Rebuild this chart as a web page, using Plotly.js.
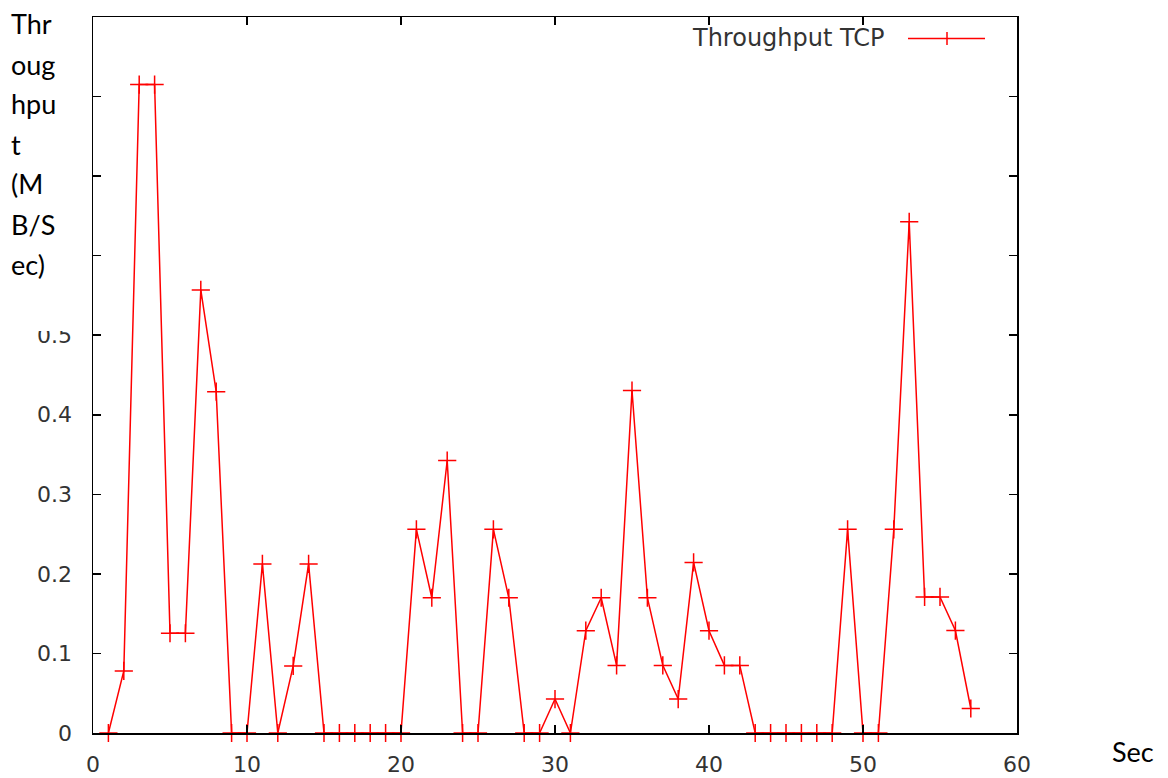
<!DOCTYPE html>
<html>
<head>
<meta charset="utf-8">
<script src="https://cdn.plot.ly/plotly-3.0.1.min.js"></script>
<style>html,body{margin:0;padding:0;background:#fff;}#chart{width:1168px;height:778px;}</style>
</head>
<body>
<div id="chart"></div>
<script>
// Data
const seconds = [1,2,3,4,5,6,7,8,9,10,11,12,13,14,15,16,17,18,19,20,21,22,23,24,25,26,27,28,29,30,31,32,33,34,35,36,37,38,39,40,41,42,43,44,45,46,47,48,49,50,51,52,53,54,55,56,57];
const throughput = [0,0.078,0.815,0.815,0.1254,0.1254,0.557,0.429,0,0,0.2125,0,0.0843,0.2125,0,0,0,0,0,0,0.256,0.170,0.3425,0,0,0.256,0.170,0,0,0.0427,0,0.1286,0.170,0.085,0.4305,0.170,0.085,0.0427,0.2144,0.1286,0.085,0.085,0,0,0,0,0,0,0.256,0,0,0.256,0.6426,0.171,0.171,0.1288,0.0308];
const seriesName = "Throughput TCP";
const yTitleLines = ["Thr","oug","hpu","t","(M","B/S","ec)"];
const xTitle = "Sec";
const xTicks = [0,10,20,30,40,50,60];
const xTickText = ["0","10","20","30","40","50","60"];
const yTicks = [0,0.1,0.2,0.3,0.4,0.5,0.6,0.7,0.8,0.9];
// labels 0.6-0.9 are hidden behind the wrapped axis title in the reference
const yTickText = ["0","0.1","0.2","0.3","0.4","0.5","","","",""];

// plot-area geometry helpers (pixels -> paper)
const L = 93, R = 1017, T = 17, B = 733;
const px = x => (x - L) / (R - L);
const py = y => (B - y) / (B - T);

const red = "#ff0000";
const tickFont = {family: "DejaVu Sans", size: 22, color: "#333333"};

const trace = {
  x: seconds, y: throughput, name: seriesName,
  type: "scatter", mode: "lines+markers",
  line: {color: red, width: 1.5},
  marker: {symbol: "cross-thin-open", size: 13, line: {color: red, width: 1.5}, color: red},
  cliponaxis: false, showlegend: false
};

const annotations = yTitleLines.map((t, i) => ({
  text: t, xref: "paper", yref: "paper", x: px(9), y: py(24 + 40 * i),
  xanchor: "left", yanchor: "middle", showarrow: false,
  font: {family: "Lato", size: 27, color: "#000"}
}));
annotations.push({
  text: xTitle, xref: "paper", yref: "paper", x: px(1133), y: py(751),
  xanchor: "center", yanchor: "middle", showarrow: false,
  font: {family: "Lato", size: 27, color: "#000"}
});
annotations.push({
  text: seriesName, xref: "paper", yref: "paper", x: px(887), y: py(38),
  xanchor: "right", yanchor: "middle", showarrow: false,
  font: {family: "DejaVu Sans", size: 24, color: "#333333"}
});

const shapes = [
  {type: "rect", xref: "paper", yref: "paper", x0: px(0), x1: px(88), y0: py(331), y1: py(0),
   fillcolor: "#ffffff", line: {width: 0}, layer: "above"},
  {type: "line", xref: "paper", yref: "paper", x0: px(908), x1: px(985), y0: py(38.5), y1: py(38.5),
   line: {color: red, width: 1.5}, layer: "above"},
  {type: "line", xref: "paper", yref: "paper", x0: px(947), x1: px(947), y0: py(32), y1: py(45),
   line: {color: red, width: 1.5}, layer: "above"}
];

const axisCommon = {
  showgrid: false, zeroline: false, showline: true, linecolor: "#000", linewidth: 1.5,
  mirror: "ticks", ticks: "inside", ticklen: 8, tickwidth: 1.5, tickcolor: "#000",
  tickfont: tickFont
};

const layout = {
  width: 1168, height: 778,
  margin: {l: L, r: 1168 - R, t: T, b: 778 - B, pad: 0},
  paper_bgcolor: "#fff", plot_bgcolor: "#fff",
  showlegend: false,
  xaxis: Object.assign({}, axisCommon, {range: [0, 60], tickvals: xTicks, ticktext: xTickText, ticklabelstandoff: 11}),
  yaxis: Object.assign({}, axisCommon, {range: [0, 0.9], tickvals: yTicks, ticktext: yTickText, ticklabelstandoff: 15}),
  annotations: annotations,
  shapes: shapes
};

Plotly.newPlot("chart", [trace], layout, {displayModeBar: false, staticPlot: true});
</script>
</body>
</html>
